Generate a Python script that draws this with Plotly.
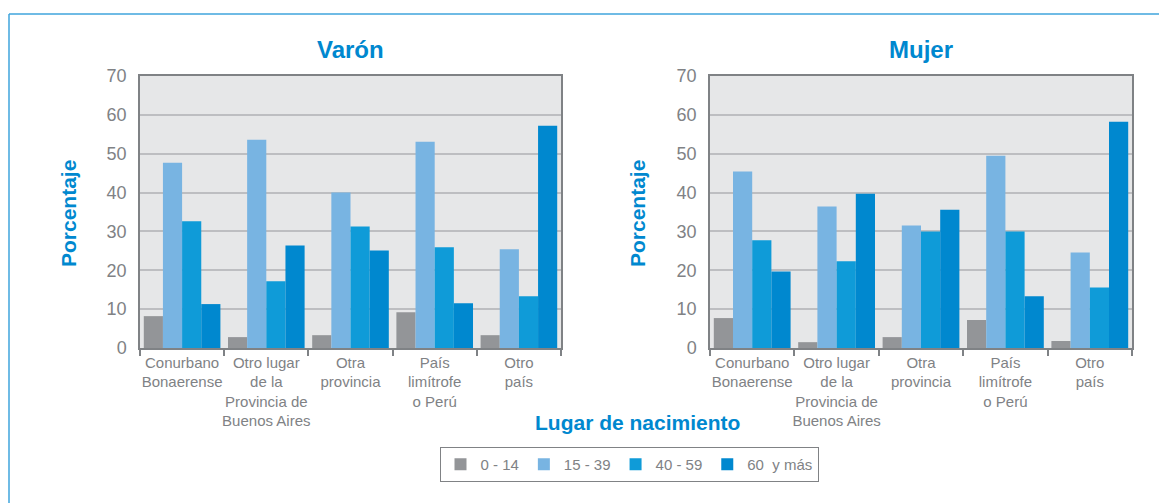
import plotly.graph_objects as go

# Lugar de nacimiento (categorias del eje x)
categorias = ["Conurbano<br>Bonaerense",
              "Otro lugar<br>de la<br>Provincia de<br>Buenos Aires",
              "Otra<br>provincia",
              "País<br>limítrofe<br>o Perú",
              "Otro<br>país"]

grupos_edad = ["0 - 14", "15 - 39", "40 - 59", "60  y más"]

# Varon, porcentajes por grupo de edad
varon_0_14 = [8.2, 2.8, 3.3, 9.2, 3.3]
varon_15_39 = [47.7, 53.6, 40.0, 53.1, 25.4]
varon_40_59 = [32.6, 17.2, 31.3, 25.9, 13.3]
varon_60 = [11.3, 26.4, 25.1, 11.5, 57.2]

# Mujer, porcentajes por grupo de edad
mujer_0_14 = [7.7, 1.5, 2.8, 7.2, 1.8]
mujer_15_39 = [45.4, 36.4, 31.5, 49.5, 24.6]
mujer_40_59 = [27.7, 22.3, 30.0, 30.0, 15.6]
mujer_60 = [19.7, 39.7, 35.6, 13.3, 58.2]

y_ticks = [0, 10, 20, 30, 40, 50, 60, 70]

colores = ["#939598", "#78B4E2", "#0F9BD8", "#0088CF"]
azul_titulo = "#0088CF"
gris_texto = "#808285"

W, H = 1167, 503
OFF = 8  # la pagina deja 8 px de margen alrededor del grafico


def px(x):
    # pixel de la captura -> fraccion horizontal del papel
    return (x - OFF) / W


def py(y):
    # pixel de la captura -> fraccion vertical del papel
    return 1 - (y - OFF) / H


fig = go.Figure()

varon = [varon_0_14, varon_15_39, varon_40_59, varon_60]
mujer = [mujer_0_14, mujer_15_39, mujer_40_59, mujer_60]

for i, nombre in enumerate(grupos_edad):
    fig.add_trace(go.Bar(x=categorias, y=varon[i], name=nombre,
                         marker=dict(color=colores[i], line=dict(width=0)),
                         xaxis="x", yaxis="y", legendgroup=nombre))
for i, nombre in enumerate(grupos_edad):
    fig.add_trace(go.Bar(x=categorias, y=mujer[i], name=nombre,
                         marker=dict(color=colores[i], line=dict(width=0)),
                         xaxis="x2", yaxis="y2", legendgroup=nombre,
                         showlegend=False))

ejes_x = dict(showline=True, linecolor="#7F8285", linewidth=1.5, mirror=True,
              ticks="outside", tickson="boundaries", ticklen=6,
              tickcolor="#7F8285", tickwidth=1.5, tickangle=0,
              automargin=False,
              tickfont=dict(family="Liberation Sans", size=15, color=gris_texto),
              showgrid=False)
ejes_y = dict(range=[0, 70], tickvals=y_ticks, showline=True,
              linecolor="#7F8285", linewidth=1.5, mirror=True,
              gridcolor="#BDBEC1", gridwidth=2, zeroline=False,
              ticks="", ticklabelstandoff=8, automargin=False,
              tickfont=dict(family="Liberation Sans", size=18, color=gris_texto))

dom_y = [py(348), py(76)]
fig.update_layout(
    template="none",
    xaxis=dict(domain=[px(140), px(561)], anchor="y", **ejes_x),
    yaxis=dict(domain=dom_y, anchor="x", **ejes_y),
    xaxis2=dict(domain=[px(710), px(1132)], anchor="y2", **ejes_x),
    yaxis2=dict(domain=dom_y, anchor="x2", **ejes_y),
    barmode="group", bargap=0.09, bargroupgap=0,
    plot_bgcolor="#E6E7E8", paper_bgcolor="white",
    width=W, height=H, margin=dict(l=0, r=0, t=0, b=0, autoexpand=False),
    legend=dict(orientation="h", x=px(629), xanchor="center",
                y=py(447), yanchor="top",
                bordercolor="#808285", borderwidth=1,
                font=dict(family="Liberation Sans", size=15, color=gris_texto),
                traceorder="normal", itemwidth=30),
)

fuente_titulo = dict(family="Liberation Sans", size=24, color=azul_titulo, weight="bold")
fig.add_annotation(text="Varón", xref="paper", yref="paper",
                   x=px(350), y=py(50), xanchor="center", yanchor="middle",
                   showarrow=False, font=fuente_titulo)
fig.add_annotation(text="Mujer", xref="paper", yref="paper",
                   x=px(921), y=py(50), xanchor="center", yanchor="middle",
                   showarrow=False, font=fuente_titulo)
fig.add_annotation(text="Lugar de nacimiento", xref="paper", yref="paper",
                   x=px(637), y=py(422), xanchor="center", yanchor="middle",
                   showarrow=False,
                   font=dict(family="Liberation Sans", size=21, color=azul_titulo, weight="bold"))
for xc in (68, 637):
    fig.add_annotation(text="Porcentaje", xref="paper", yref="paper",
                       x=px(xc), y=py(214), xanchor="center", yanchor="middle",
                       showarrow=False, textangle=-90,
                       font=dict(family="Liberation Sans", size=21, color=azul_titulo, weight="bold"))

# marco azul del recuadro (arriba y a la izquierda)
marco = dict(color="#3FA5DC", width=1.5)
fig.add_shape(type="line", xref="paper", yref="paper",
              x0=px(9), x1=1, y0=py(14), y1=py(14), line=marco)
fig.add_shape(type="line", xref="paper", yref="paper",
              x0=px(9), x1=px(9), y0=0, y1=py(14), line=marco)

fig.write_html("out.html")
